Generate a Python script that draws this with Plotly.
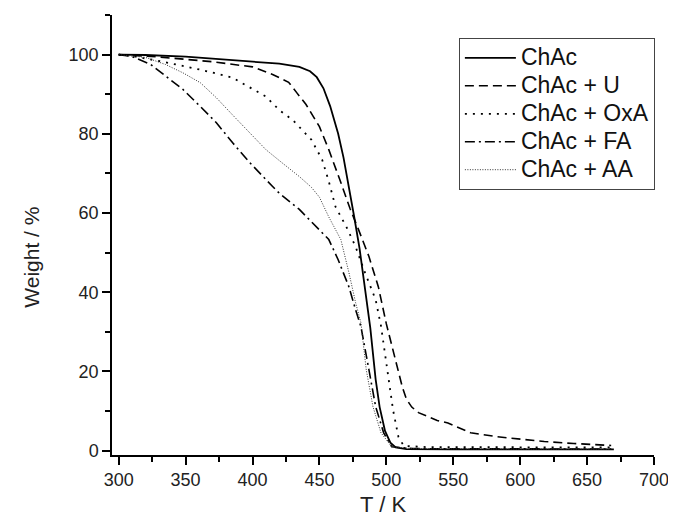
import plotly.graph_objects as go

# ---- data ----
chac_T = [300, 320, 350, 380, 400, 420, 435, 443, 448, 453, 458, 464, 468, 472, 476, 480, 484, 488, 492, 495, 499, 503, 507, 515, 550, 600, 670]
chac_W = [100, 99.9, 99.5, 98.8, 98.3, 97.7, 96.9, 95.8, 94.3, 91.5, 87, 80, 74, 67, 59, 51, 41, 31, 18, 11, 5, 2, 0.8, 0.4, 0.3, 0.3, 0.3]

u_T = [300, 330, 370, 400, 415, 427, 433, 440, 450, 457, 466, 473, 479, 487, 494, 500, 506, 512, 515, 519, 524, 538, 546, 563, 583, 600, 618, 640, 668]
u_W = [100, 99.4, 98.2, 96.9, 95, 93, 90.4, 87.4, 81.8, 76, 67.7, 61, 56, 49, 41.4, 32, 24, 16, 13, 11, 9.6, 7.6, 7.0, 4.5, 3.5, 2.9, 2.3, 1.8, 1.3]

oxa_T = [300, 311, 336, 361, 385, 410, 420, 430, 444, 452, 457, 462, 470, 477, 484, 492, 496, 501, 505, 509, 513, 530, 600, 668]
oxa_W = [100, 99.6, 98, 96.2, 94.2, 89.4, 86, 83.5, 78.5, 73.5, 68, 61.6, 56.6, 51.5, 45, 38.1, 31.5, 20.4, 10.3, 3.5, 1.2, 0.9, 0.8, 0.8]

fa_T = [300, 310, 324, 336, 348, 361, 373, 385, 398, 415, 420, 435, 450, 457, 464, 472, 477, 481, 487, 492, 498, 504, 520, 600, 668]
fa_W = [100, 99.5, 97.5, 94.4, 91.2, 86.9, 82.8, 77.8, 72.7, 66.7, 65, 60.9, 55.8, 53.3, 48.2, 41.4, 35.6, 31.3, 20.4, 11.1, 4.5, 1, 0.5, 0.4, 0.4]

aa_T = [300, 320, 335, 348, 361, 373, 385, 398, 410, 422, 435, 444, 450, 457, 466, 472, 477, 481, 485, 490, 496, 504, 520, 600, 668]
aa_W = [100, 99.3, 97.5, 95.4, 92.9, 89.1, 84.8, 80.3, 76, 72.7, 69.2, 66.5, 64, 59, 53.3, 45, 37.4, 32.3, 20.4, 11.1, 4.5, 1, 0.5, 0.4, 0.4]

series_names = ["ChAc", "ChAc + U", "ChAc + OxA", "ChAc + FA", "ChAc + AA"]

x_ticks = [300, 350, 400, 450, 500, 550, 600, 650, 700]
y_ticks = [0, 20, 40, 60, 80, 100]

styles = [
    dict(color="black", width=1.8, dash="solid"),
    dict(color="black", width=1.6, dash="9px,5px"),
    dict(color="black", width=1.8, dash="2px,6px"),
    dict(color="black", width=1.6, dash="10px,4px,2px,4px"),
    dict(color="#333333", width=1, dash="1px,1.5px"),
]

FONT = "Liberation Sans, Arial, Helvetica, sans-serif"

fig = go.Figure()
for name, t, w, line in zip(series_names,
                            [chac_T, u_T, oxa_T, fa_T, aa_T],
                            [chac_W, u_W, oxa_W, fa_W, aa_W],
                            styles):
    fig.add_trace(go.Scatter(
        x=t, y=w, mode="lines",
        name='<span style="font-size:23px">' + name + '</span>',
        line=line))

axis_common = dict(
    showgrid=False, zeroline=False, showline=True, linecolor="black", linewidth=1.5,
    ticks="outside", ticklen=8, tickwidth=1.5, tickcolor="black",
    tickfont=dict(family=FONT, size=18, color="#222222"),
    mirror=False,
)

fig.update_xaxes(range=[295, 700], tickvals=x_ticks,
                 minor=dict(dtick=25, tick0=300, ticks="outside", ticklen=5, tickwidth=1.5, tickcolor="black"),
                 **axis_common)
fig.update_yaxes(range=[-1.1, 110], tickvals=y_ticks,
                 minor=dict(dtick=10, tick0=0, ticks="outside", ticklen=5, tickwidth=1.5, tickcolor="black"),
                 **axis_common)

# page body has an 8px margin; compensate so the plot lands where the reference has it
fig.update_layout(
    width=668, height=514,
    margin=dict(l=104, r=18, t=7, b=67),
    paper_bgcolor="white", plot_bgcolor="white",
    font=dict(family=FONT, color="#222222"),
    showlegend=True,
    legend=dict(
        x=0.64, y=0.948, xanchor="left", yanchor="top",
        bgcolor="white", bordercolor="#444444", borderwidth=1,
        font=dict(family=FONT, size=19.2, color="#111111"),
        itemwidth=51, tracegroupgap=0,
    ),
    annotations=[
        dict(text="T / K", xref="paper", yref="paper", x=0.5, y=-0.1136,
             xanchor="center", yanchor="middle", showarrow=False,
             font=dict(family=FONT, size=22, color="#222222")),
        dict(text="Weight / %", xref="paper", yref="paper", x=-0.150, y=0.45,
             xanchor="center", yanchor="middle", showarrow=False, textangle=-90,
             font=dict(family=FONT, size=21, color="#222222")),
    ],
)

fig.write_html("out.html")
